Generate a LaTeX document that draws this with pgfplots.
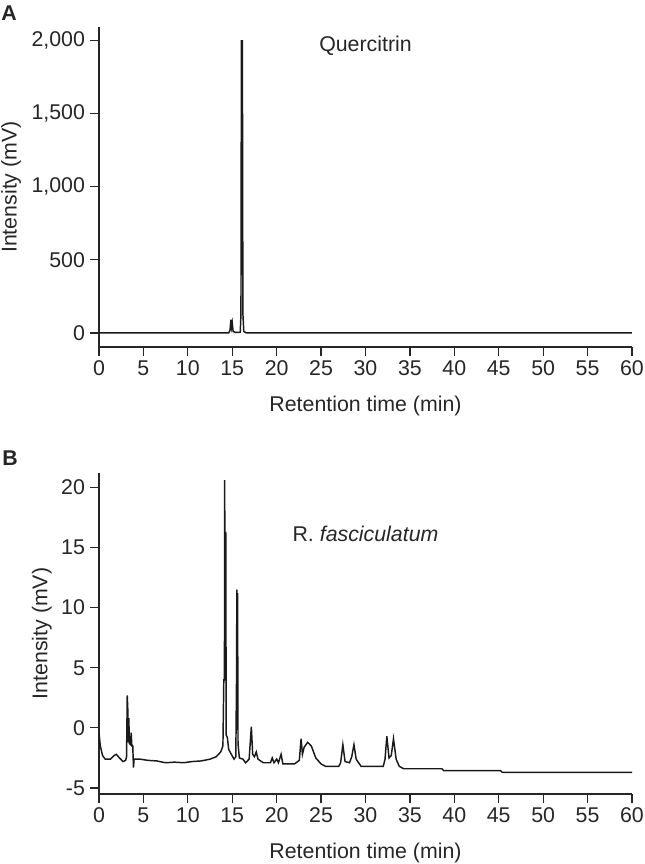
\documentclass[border=0pt]{standalone}
\usepackage{fontspec}
\setmainfont{Liberation Sans}
\usepackage{pgfplots}
\pgfplotsset{compat=1.18}

\pgfplotsset{
  chrom/.style={
    scale only axis, width=399.75pt, height=240pt,
    axis lines=left, axis line style={-, line width=0.9pt, black!85},
    tick align=outside, major tick length=7pt,
    tick style={line width=0.9pt, black!85},
    xmin=0, xmax=60, xtick={0,5,...,60},
    /pgf/number format/assume math mode=true,
    scaled y ticks=false,
    tick label style={font=\fontsize{16}{19}\selectfont, black!85},
    label style={font=\fontsize{16}{19}\selectfont, black!85},
    xlabel={Retention time (min)},
    xlabel style={at={(axis description cs:0.5,0)}, anchor=center, yshift=-44pt},
    ylabel={Intensity (mV)},
  },
}

\begin{document}
\begin{tikzpicture}
\path[use as bounding box] (-74.25pt,-387.75pt) rectangle (408.75pt,260.25pt);

% panel A
\begin{axis}[chrom, at={(0,0)}, anchor=south west,
  ymin=-96, ymax=2090, ytick={0,500,1000,1500,2000},
  /pgf/number format/1000 sep={,},
  ylabel style={at={(axis description cs:-0.165,0.5)}, anchor=center, rotate=0},
]
\addplot[black!90, line width=1.1pt] coordinates {
  (0,0) (14.6,0) (14.75,20) (14.85,90) (14.92,40) (15.0,70) (15.1,10) (15.4,3)
  (15.9,5) (15.98,130) (16.03,1995) (16.14,1995) (16.2,130) (16.3,10) (16.6,0) (60,0)
};
\node[font=\fontsize{16}{19}\selectfont, black!85] at (axis cs:30,1960) {Quercitrin};
\end{axis}

% panel B
\begin{axis}[chrom, at={(0,-335.25pt)}, anchor=south west, height=240.75pt,
  ymin=-5.5, ymax=21.2, ytick={-5,0,5,10,15,20},
  ylabel style={at={(axis description cs:-0.107,0.5)}, anchor=center, rotate=0},
]
\addplot[black!90, line width=1.1pt] coordinates {
  (0,-0.4) (0.15,-1.5) (0.4,-2.3) (0.7,-2.6) (1.3,-2.6) (1.7,-2.3) (1.95,-2.2)
  (2.3,-2.5) (2.7,-2.8) (3.0,-2.7) (3.1,-2.4) (3.18,2.7) (3.24,1.6) (3.3,-1.2)
  (3.36,0.8) (3.42,-1.3) (3.55,-1.4) (3.62,-0.4) (3.7,-1.5) (3.8,-1.5) (3.88,-3.3)
  (3.95,-2.6) (4.6,-2.6) (5.5,-2.7) (6.5,-2.75) (7.5,-2.9) (8.5,-2.85) (9.5,-2.9)
  (10.5,-2.8) (11.5,-2.75) (12.5,-2.6) (13.2,-2.4) (13.7,-2.0) (13.95,-1.5)
  (14.05,4.0) (14.12,4.0) (14.15,20.6) (14.2,4.0) (14.27,16.3) (14.32,-0.6)
  (14.45,-0.8) (14.6,-1.8) (14.9,-2.2) (15.2,-2.6) (15.4,-2.4) (15.48,3.9)
  (15.52,11.5) (15.57,3.9) (15.6,11.2) (15.65,-1.3) (15.8,-2.5) (16.2,-2.6)
  (16.5,-2.9) (16.9,-2.6) (17.15,0.1) (17.3,-2.2) (17.5,-2.4) (17.7,-2.0)
  (17.9,-2.6) (18.5,-2.9) (19.3,-2.9) (19.5,-2.5) (19.7,-2.9) (20.0,-2.6)
  (20.2,-2.9) (20.5,-2.2) (20.7,-3.0) (22.0,-3.0) (22.55,-2.7) (22.75,-0.9)
  (22.9,-2.2) (23.1,-1.6) (23.5,-1.2) (23.9,-1.5) (24.4,-2.5) (25.0,-3.0)
  (25.5,-3.2) (27.0,-3.2) (27.2,-2.9) (27.45,-1.4) (27.7,-2.8) (28.2,-2.9)
  (28.45,-2.4) (28.7,-1.4) (28.95,-2.6) (29.5,-3.2) (32.0,-3.2) (32.2,-2.6)
  (32.4,-0.7) (32.65,-2.5) (32.9,-2.3) (33.15,-0.9) (33.45,-2.6) (33.8,-3.2)
  (34.3,-3.4) (38.6,-3.4) (38.8,-3.55) (45.2,-3.55) (45.4,-3.7) (60.0,-3.7)
};
\node[font=\fontsize{16}{19}\selectfont, black!85] at (axis cs:30,16.1) {R. \textit{fasciculatum}};
\end{axis}

\node[font=\fontsize{16}{19}\selectfont\bfseries, black!85] at (-67.5pt,250.5pt) {A};
\node[font=\fontsize{16}{19}\selectfont\bfseries, black!85] at (-66.75pt,-83.25pt) {B};
\end{tikzpicture}
\end{document}
